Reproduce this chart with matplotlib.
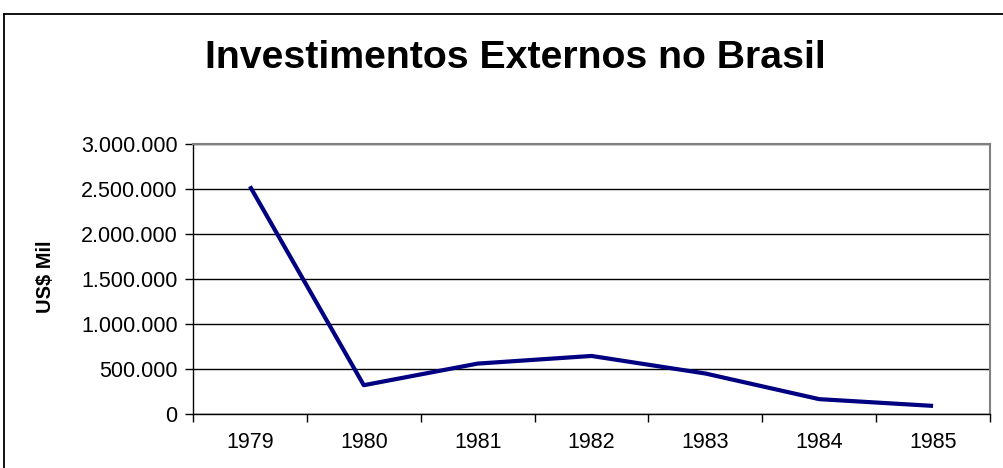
import matplotlib.pyplot as plt
from matplotlib.lines import Line2D
from matplotlib.ticker import FuncFormatter, MultipleLocator

plt.rcParams["font.family"] = ["Liberation Sans", "DejaVu Sans"]

# Dados
anos = ["1979", "1980", "1981", "1982", "1983", "1984", "1985"]
investimentos = [2530000, 320000, 560000, 645000, 450000, 165000, 90000]

W, H = 1004, 468
fig = plt.figure(figsize=(W / 100, H / 100), dpi=100)
ax = fig.add_axes([193 / W, (H - 414) / H, (990 - 193) / W, (414 - 144) / H])

x = range(len(anos))
ax.plot(x, investimentos, color="#000080", linewidth=3, solid_capstyle="butt")

ax.set_xlim(-0.5, len(anos) - 0.5)
ax.set_ylim(0, 3000000)
ax.yaxis.set_major_locator(MultipleLocator(500000))
ax.yaxis.set_major_formatter(FuncFormatter(lambda v, p: f"{int(v):,}".replace(",", ".")))
ax.grid(axis="y", color="black", linewidth=1)
ax.set_axisbelow(True)

# categorias: rótulos no centro, traços nas divisas
ax.set_xticks(list(x))
ax.set_xticklabels(anos)
ax.tick_params(axis="x", length=0, labelsize=15.5, pad=13)
ax.set_xticks([i - 0.5 for i in range(len(anos) + 1)], minor=True)
ax.tick_params(axis="x", which="minor", length=6, width=1, direction="out")
ax.tick_params(axis="y", length=6, width=1, labelsize=15.5, pad=5)

for s in ["left", "bottom"]:
    ax.spines[s].set_color("black")
    ax.spines[s].set_linewidth(1)
for s in ["top", "right"]:
    ax.spines[s].set_color("#808080")
    ax.spines[s].set_linewidth(1.5)

fig.text(46 / W, 1 - 277 / H, "US$ Mil", fontsize=14.5, fontweight="bold",
         rotation=90, ha="center", va="center")

fig.text(515 / W, 1 - 57.5 / H, "Investimentos Externos no Brasil",
         fontsize=28.3, fontweight="bold", ha="center", va="center")

# moldura do gráfico
fig.add_artist(Line2D([4 / W, 4 / W], [0, 1 - 14 / H], transform=fig.transFigure,
                      color="black", linewidth=1.3))
fig.add_artist(Line2D([4 / W, 1], [1 - 14 / H, 1 - 14 / H], transform=fig.transFigure,
                      color="black", linewidth=1.3))

fig.savefig("out.png", dpi=100)
